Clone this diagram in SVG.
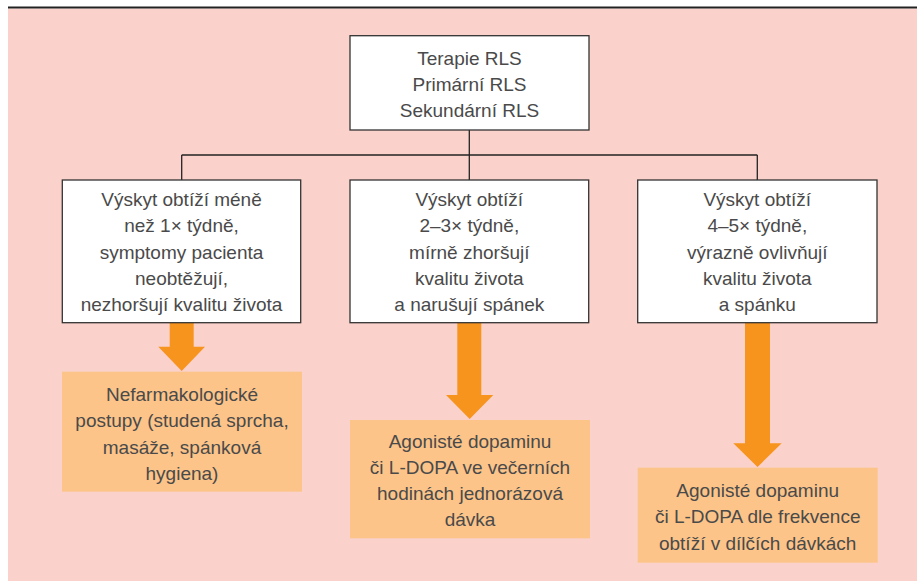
<svg xmlns="http://www.w3.org/2000/svg" width="917" height="581" viewBox="0 0 917 581">
<style>
.bg{fill:#FAD2CB}
.box{fill:#FFFFFF;stroke:#333333;stroke-width:1.3}
.res{fill:#FCC489}
.t{font-family:"Liberation Sans",Arial,sans-serif;font-size:19px;fill:#4A4A4A;text-anchor:middle}
.ln{stroke:#222222;stroke-width:1.3;fill:none}
.arr{fill:#F7941E}
</style>
<rect class="bg" x="8" y="8.5" width="909" height="572.5"/>
<line x1="8" y1="7.6" x2="917" y2="7.6" stroke="#222222" stroke-width="2"/>
<g id="connectors">
<line class="ln" x1="469.3" y1="130" x2="469.3" y2="180"/>
<line class="ln" x1="181.7" y1="155" x2="757.3" y2="155"/>
<line class="ln" x1="181.7" y1="155" x2="181.7" y2="180"/>
<line class="ln" x1="757.3" y1="155" x2="757.3" y2="180"/>
<polygon class="arr" points="169.7,323 193.7,323 193.7,346.7 205,346.7 181.7,371 158.3,346.7 169.7,346.7"/>
<polygon class="arr" points="457.3,323 481.3,323 481.3,395 493.3,395 469.7,419 446,395 457.3,395"/>
<polygon class="arr" points="745,323 770,323 770,443.3 781.7,443.3 757.5,467 733.3,443.3 745,443.3"/>
</g>
<g id="root">
<rect class="box" x="350" y="35.7" width="239" height="94.3"/>
<text class="t" x="469.5" y="65.3">Terapie RLS</text>
<text class="t" x="469.5" y="91">Primární RLS</text>
<text class="t" x="469.5" y="116.7">Sekundární RLS</text>
</g>
<g id="freq1">
<rect class="box" x="62.3" y="180" width="238.4" height="142.7"/>
<text class="t" x="181.5" y="206">Výskyt obtíží méně</text>
<text class="t" x="181.5" y="232.3">než 1× týdně,</text>
<text class="t" x="181.5" y="258.7">symptomy pacienta</text>
<text class="t" x="181.5" y="285">neobtěžují,</text>
<text class="t" x="181.5" y="311.3">nezhoršují kvalitu života</text>
</g>
<g id="freq2">
<rect class="box" x="350" y="180" width="238.7" height="142.7"/>
<text class="t" x="469.3" y="206">Výskyt obtíží</text>
<text class="t" x="469.3" y="232.3">2–3× týdně,</text>
<text class="t" x="469.3" y="258.7">mírně zhoršují</text>
<text class="t" x="469.3" y="285">kvalitu života</text>
<text class="t" x="469.3" y="311.3">a narušují spánek</text>
</g>
<g id="freq3">
<rect class="box" x="637.7" y="180" width="239.3" height="142.7"/>
<text class="t" x="757.3" y="206">Výskyt obtíží</text>
<text class="t" x="757.3" y="232.3">4–5× týdně,</text>
<text class="t" x="757.3" y="258.7">výrazně ovlivňují</text>
<text class="t" x="757.3" y="285">kvalitu života</text>
<text class="t" x="757.3" y="311.3">a spánku</text>
</g>
<g id="therapy1">
<rect class="res" x="62" y="371.7" width="240" height="120"/>
<text class="t" x="182" y="401">Nefarmakologické</text>
<text class="t" x="182" y="427.3">postupy (studená sprcha,</text>
<text class="t" x="182" y="453.7">masáže, spánková</text>
<text class="t" x="182" y="480">hygiena)</text>
</g>
<g id="therapy2">
<rect class="res" x="350" y="420" width="240" height="118.3"/>
<text class="t" x="470" y="448.3">Agonisté dopaminu</text>
<text class="t" x="470" y="474.3">či L-DOPA ve večerních</text>
<text class="t" x="470" y="500.3">hodinách jednorázová</text>
<text class="t" x="470" y="526.3">dávka</text>
</g>
<g id="therapy3">
<rect class="res" x="637.7" y="467.7" width="240" height="95"/>
<text class="t" x="757.7" y="496.7">Agonisté dopaminu</text>
<text class="t" x="757.7" y="523.3">či L-DOPA dle frekvence</text>
<text class="t" x="757.7" y="550">obtíží v dílčích dávkách</text>
</g>
</svg>
